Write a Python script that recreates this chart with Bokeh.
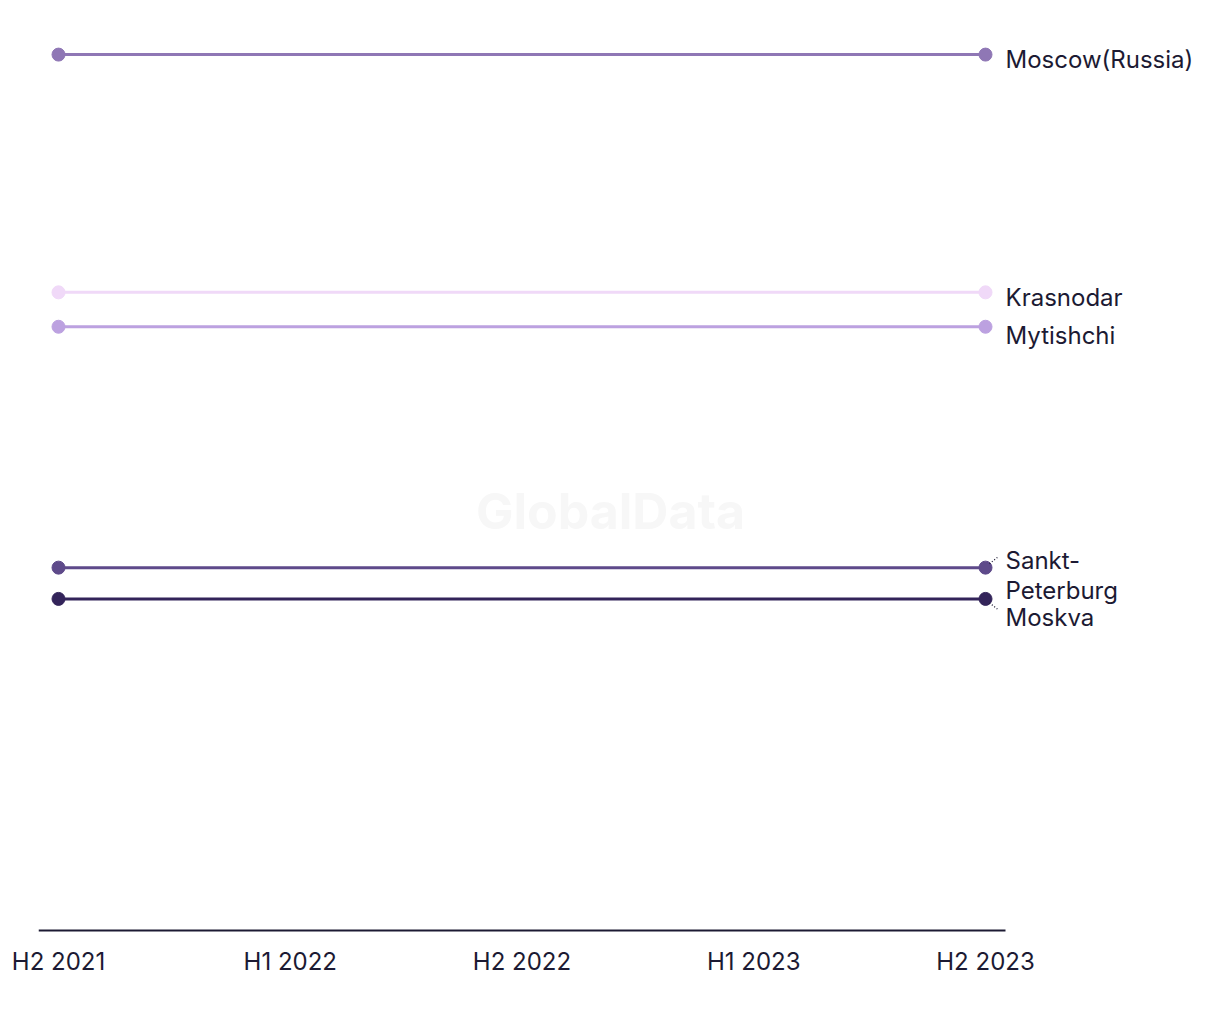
from bokeh.plotting import figure
from bokeh.models import Range1d, FixedTicker, Label, ColumnDataSource
from bokeh.core.properties import value
from bokeh.embed import file_html
from bokeh.resources import INLINE

periods = ["H2 2021", "H1 2022", "H2 2022", "H1 2023", "H2 2023"]
cities = ["Moscow(Russia)", "Krasnodar", "Mytishchi", "Sankt-Peterburg", "Moskva"]
moscow_russia = [28.0, 28.0, 28.0, 28.0, 28.0]
krasnodar = [20.4, 20.4, 20.4, 20.4, 20.4]
mytishchi = [19.3, 19.3, 19.3, 19.3, 19.3]
sankt_peterburg = [11.6, 11.6, 11.6, 11.6, 11.6]
moskva = [10.6, 10.6, 10.6, 10.6, 10.6]
series = [moscow_russia, krasnodar, mytishchi, sankt_peterburg, moskva]
colors = ["#8f77b5", "#f0d9f8", "#bca1e0", "#5e4a8a", "#33245a"]
label_texts = ["Moscow(Russia)", "Krasnodar", "Mytishchi", "Sankt-\nPeterburg", "Moskva"]
label_dy = [5, 5, 9, 8, 19]  # screen px offsets (down) to avoid overlaps

FONT = "Inter"
TXT = "#1c1a33"
Y_END = 29.09
px_x = 4.1726 / 967
px_y = Y_END / 910
X0 = -0.0863
X_AXIS_END = 4.0863

p = figure(width=1212, height=1004, output_backend="svg", toolbar_location=None,
           x_range=Range1d(X0, X0 + 1170 * px_x), y_range=Range1d(-2 * px_y, Y_END),
           min_border_left=38, min_border_right=4, min_border_top=20, min_border_bottom=72)
p.outline_line_color = None
p.grid.grid_line_color = None
p.yaxis.visible = False
p.background_fill_color = "white"
p.border_fill_color = "white"

xs = list(range(len(periods)))
p.xaxis.ticker = FixedTicker(ticks=xs)
p.xaxis.major_label_overrides = {i: s for i, s in enumerate(periods)}
p.xaxis.major_tick_line_color = None
p.xaxis.minor_tick_line_color = None
p.xaxis.axis_line_color = None
p.xaxis.major_label_text_font = FONT
p.xaxis.major_label_text_font_size = "24px"
p.xaxis.major_label_text_color = TXT
p.xaxis.major_label_standoff = 8

# baseline of the x axis (only across the data area)
p.segment(x0=[X0], y0=[0], x1=[X_AXIS_END], y1=[0], line_color=TXT, line_width=2)

wm = Label(x=X0 + 572 * px_x, y=13.4, text="GlobalData", text_align="center", text_baseline="middle",
           text_font=FONT, text_font_style="bold", text_font_size="50px", text_color="#f7f7f7")
p.add_layout(wm)

for vals, col in zip(series, colors):
    p.line(xs, vals, line_color=col, line_width=3)
    p.scatter([xs[0], xs[-1]], [vals[0], vals[-1]], size=13, fill_color=col, line_color=col)

# labels
lab = ColumnDataSource(dict(x=[xs[-1]] * len(series), y=[s[-1] for s in series],
                            t=label_texts, dy=label_dy))
p.text(x="x", y="y", text="t", y_offset="dy", x_offset=20, source=lab,
       text_font=value(FONT), text_font_size="24px", text_color=TXT,
       text_baseline="middle", text_align="left", text_line_height=1.06)

# leader lines for shifted labels
for idx, sign in [(3, 1), (4, -1)]:
    y0 = series[idx][-1]
    p.segment(x0=[xs[-1] + 4 * px_x], y0=[y0 + sign * 4 * px_y],
              x1=[xs[-1] + 13 * px_x], y1=[y0 + sign * 11 * px_y],
              line_color=TXT, line_width=1.3, line_dash="1 2")

open("out.html", "w").write(file_html(p, INLINE))
